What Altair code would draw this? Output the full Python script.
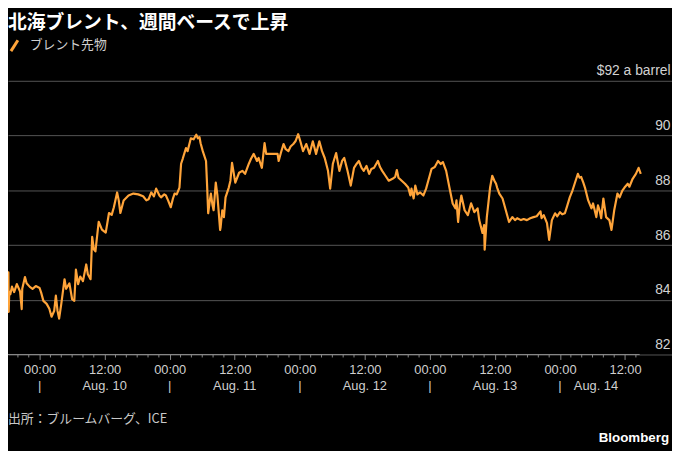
import altair as alt
import pandas as pd

TITLE = "北海ブレント、週間ベースで上昇"
LEGEND = "ブレント先物"
SOURCE = "出所：ブルームバーグ、ICE"
BRAND = "Bloomberg"
UNIT_LABEL = "$92 a barrel"

# (hours since Aug. 10 00:00, price in $)
aug09 = [(-5.8, 84.28), (-5.75, 85.0), (-5.7, 83.56), (-5.6, 84.3), (-5.4, 84.2), (-5.1, 84.48),
         (-4.7, 84.28), (-4.2, 84.57), (-3.6, 84.3), (-3.3, 83.66), (-3.2, 84.4), (-2.7, 84.83),
         (-2.4, 84.6), (-1.8, 84.47), (-1.3, 84.4), (-0.7, 84.5)]
aug10 = [(0, 84.43), (0.3, 84.25), (0.7, 83.96), (1.3, 83.85), (1.8, 83.67), (2.2, 83.38), (2.7, 83.6),
         (3.0, 84.15), (3.3, 83.6), (3.6, 83.31), (4.0, 83.85), (4.6, 84.75), (4.9, 84.4), (5.5, 84.6),
         (6.0, 84.02), (6.4, 83.96), (6.7, 85.1), (7.1, 84.57), (7.5, 84.85), (8.0, 84.68), (8.6, 85.29),
         (8.9, 84.93), (9.4, 84.75), (9.7, 86.3), (10.0, 85.84), (10.3, 85.77), (10.9, 86.85), (11.5, 86.56),
         (12.2, 86.45), (12.8, 87.17), (13.3, 87.1), (13.7, 87.38), (14.3, 87.92), (14.6, 87.63),
         (14.9, 87.17), (15.5, 87.63), (16.4, 87.81), (17.3, 87.88), (18.2, 87.85), (19.1, 87.78),
         (19.7, 87.63), (20.1, 87.67), (20.6, 87.92), (21.1, 87.78), (21.5, 88.06), (22.1, 87.81),
         (22.4, 87.74), (23.0, 87.85), (23.3, 87.81), (23.7, 87.63)]
aug11 = [(24.2, 87.38), (24.6, 87.7), (24.9, 87.88), (25.3, 87.85), (25.8, 88.1), (26.1, 88.97),
         (26.4, 89.15), (27.0, 89.54), (27.3, 89.43), (27.9, 89.9), (28.4, 89.86), (28.9, 90.03),
         (29.2, 89.9), (29.5, 89.94), (29.7, 89.72), (30.1, 89.43), (30.7, 89.07), (30.9, 88.17),
         (31.1, 87.16), (31.4, 87.63), (31.6, 87.88), (31.9, 87.45), (32.1, 87.27), (32.5, 88.28),
         (32.8, 87.81), (33.3, 86.55), (33.4, 86.66), (33.7, 87.27), (34.0, 87.02), (34.3, 87.74),
         (34.9, 88.1), (35.2, 88.35), (35.5, 89.0), (36.1, 88.28), (36.8, 88.64), (37.4, 88.71),
         (37.9, 88.6), (38.6, 88.97), (39.0, 89.15), (39.5, 89.33), (40.1, 89.07), (40.4, 89.18),
         (41.0, 88.82), (41.5, 89.72), (41.8, 89.33), (43.9, 89.33), (44.1, 89.07), (44.5, 89.36),
         (45.0, 89.69), (45.4, 89.5), (45.9, 89.43), (46.3, 89.6), (46.8, 89.69), (47.2, 89.79),
         (47.7, 90.05)]
aug12 = [(48.1, 89.79), (48.6, 89.43), (49.2, 89.69), (49.8, 89.33), (50.4, 89.79), (51.0, 89.33),
         (51.6, 89.79), (52.1, 89.43), (52.6, 89.18), (53.2, 88.71), (53.6, 88.06), (54.1, 88.97),
         (54.7, 89.36), (55.3, 88.71), (55.8, 89.07), (56.2, 89.18), (56.8, 88.71), (57.4, 88.17),
         (58.0, 88.82), (58.5, 88.97), (58.9, 89.07), (59.4, 88.82), (59.8, 88.71), (60.3, 88.89),
         (60.8, 88.6), (61.2, 88.78), (61.7, 88.82), (62.4, 89.07), (62.8, 88.85), (63.2, 88.71),
         (63.8, 88.53), (64.4, 88.35), (65.1, 88.42), (65.6, 88.49), (65.9, 88.74), (66.2, 88.46),
         (66.8, 88.35), (67.4, 88.24), (68.0, 88.1), (68.4, 87.81), (68.6, 88.06), (69.0, 87.7),
         (69.3, 88.17), (69.7, 87.85), (70.2, 87.92), (70.8, 87.81), (71.3, 88.06), (71.7, 88.35)]
aug13 = [(72.3, 88.78), (72.9, 88.85), (73.5, 89.07), (74.0, 88.96), (74.4, 89.03), (75.0, 88.71),
         (75.6, 88.1), (76.2, 87.52), (76.7, 87.34), (76.9, 87.63), (77.2, 86.84), (77.5, 87.45),
         (77.8, 87.81), (78.4, 87.27), (79.0, 87.09), (79.6, 87.52), (80.2, 87.2), (80.8, 87.34),
         (81.1, 86.91), (81.7, 86.44), (82.0, 86.73), (82.1, 85.83), (82.5, 87.02), (83.1, 88.1),
         (83.5, 88.53), (83.9, 88.35), (84.2, 88.24), (84.4, 88.1), (84.8, 87.88), (85.4, 87.7),
         (86.0, 87.27), (86.6, 86.84), (87.2, 87.02), (87.7, 86.91), (88.1, 86.98), (88.8, 86.91),
         (89.3, 86.95), (89.9, 86.91), (90.5, 86.98), (91.1, 87.02), (91.7, 87.05), (92.4, 87.23),
         (92.6, 86.98), (93.0, 87.09), (93.6, 86.8), (94.0, 86.19), (94.5, 86.91), (95.1, 87.16),
         (95.5, 87.05)]
aug14 = [(96.0, 87.2), (96.4, 87.12), (96.9, 87.16), (97.3, 87.41), (97.8, 87.74), (98.3, 87.99),
         (98.7, 88.24), (99.0, 88.42), (99.3, 88.6), (99.6, 88.46), (99.9, 88.49), (100.3, 88.28),
         (100.6, 88.1), (101.2, 87.63), (101.8, 87.34), (102.1, 87.52), (102.7, 87.02), (103.0, 87.45),
         (103.3, 87.27), (103.6, 86.98), (104.0, 87.7), (104.5, 87.02), (105.1, 86.91), (105.5, 86.55),
         (106.0, 87.27), (106.6, 87.88), (107.0, 87.74), (107.5, 87.99), (107.9, 88.1), (108.5, 88.24),
         (108.8, 88.13), (109.4, 88.42), (110.0, 88.6), (110.5, 88.82), (110.9, 88.6)]

y_ticks = [82, 84, 86, 88, 90, 92]
major_hours = [0, 12, 24, 36, 48, 60, 72, 84, 96, 108]
minor_hours = [h for h in range(-4, 112, 2) if h % 12 != 0]
sep_hours = [0, 24, 48, 72, 96]
day_hours = [12, 36, 60, 84]
day_names = ["Aug. 10", "Aug. 11", "Aug. 12", "Aug. 13"]
last_day_hour = 96
last_day = "Aug. 14"
x_range_hours = [-5.83, 116.66]
baseline_end_hour = 110.7

BASE_MS = int(pd.Timestamp("2023-08-10T00:00:00", tz="UTC").value // 10**6)
HOUR_MS = 3_600_000


def ms(h):
    return BASE_MS + int(round(h * HOUR_MS))


rows = [p for seg in (aug09, aug10, aug11, aug12, aug13, aug14) for p in seg]
df = pd.DataFrame({"t": [ms(h) for h, _ in rows], "price": [p for _, p in rows]})

ORANGE = "#ffa43a"
W, H = 672, 277
FONT = "Liberation Sans"
CJK = "Noto Sans CJK JP"

xscale = alt.Scale(type="utc", domain=[ms(x_range_hours[0]), ms(x_range_hours[1])])
x_axis = alt.Axis(
    values=[ms(h) for h in major_hours],
    labelExpr="utcFormat(datum.value, '%H:%M')",
    grid=False,
    domain=False,
    ticks=True,
    tickSize=5,
    tickColor="#8a8a8a",
    labelPadding=4,
    labelFont=FONT,
    labelFontSize=13,
    labelColor="#cfcfcf",
    labelOverlap=False,
    title=None,
)
x_main = alt.X("t:T", scale=xscale, axis=x_axis)

y_main = alt.Y(
    "price:Q",
    scale=alt.Scale(domain=[82, 92], nice=False, zero=False),
    axis=alt.Axis(
        orient="right",
        values=y_ticks,
        grid=True,
        gridColor="#555555",
        gridWidth=1,
        domain=False,
        ticks=False,
        tickSize=0,
        labelAlign="right",
        labelBaseline="alphabetic",
        labelPadding=-2,
        labelOffset=-6,
        labelFont=FONT,
        labelFontSize=14,
        labelColor="#d2d2d2",
        labelExpr=f"datum.value == 92 ? '{UNIT_LABEL}' : datum.label",
        title=None,
    ),
)

line = alt.Chart(df).mark_line(color=ORANGE, strokeWidth=2.2, strokeJoin="round").encode(x=x_main, y=y_main)

# baseline and minor ticks
base_df = pd.DataFrame({"t": [ms(x_range_hours[0])], "t_end": [ms(baseline_end_hour)]})
baseline = alt.Chart(base_df).mark_rule(color="#8a8a8a", strokeWidth=1).encode(
    x=x_main, x2="t_end:T", y=alt.value(H)
)
minor_df = pd.DataFrame({"t": [ms(h) for h in minor_hours]})
minor = alt.Chart(minor_df).mark_rule(color="#8a8a8a", strokeWidth=1).encode(
    x=x_main, y=alt.value(H), y2=alt.value(H + 3)
)

# second row of x labels
row2_df = pd.DataFrame({
    "t": [ms(h) for h in sep_hours] + [ms(h) for h in day_hours],
    "label": ["|"] * len(sep_hours) + day_names,
})
row2 = alt.Chart(row2_df).mark_text(
    align="center", baseline="top", font=FONT, fontSize=13, color="#cfcfcf"
).encode(x=x_main, y=alt.value(303), text="label:N")
last_df = pd.DataFrame({"t": [ms(last_day_hour)], "label": [last_day]})
row2_last = alt.Chart(last_df).mark_text(
    align="left", baseline="top", dx=14, font=FONT, fontSize=13, color="#cfcfcf"
).encode(x=x_main, y=alt.value(303), text="label:N")

# title, legend, source, brand
one = lambda s: pd.DataFrame({"s": [s]})
title = alt.Chart(one(TITLE)).mark_text(
    align="left", baseline="middle", font=CJK, fontSize=19, fontWeight="bold", color="#ffffff"
).encode(x=alt.value(0), y=alt.value(-58), text="s:N")
legend_icon = alt.Chart(one("icon")).mark_rule(color=ORANGE, strokeWidth=3).encode(
    x=alt.value(3), x2=alt.value(10), y=alt.value(-30), y2=alt.value(-41)
)
legend_text = alt.Chart(one(LEGEND)).mark_text(
    align="left", baseline="middle", font=CJK, fontSize=13, color="#d0d0d0"
).encode(x=alt.value(22), y=alt.value(-36), text="s:N")
source = alt.Chart(one(SOURCE)).mark_text(
    align="left", baseline="middle", font=CJK, fontSize=13, color="#c8c8c8"
).encode(x=alt.value(0), y=alt.value(342), text="s:N")
brand = alt.Chart(one(BRAND)).mark_text(
    align="right", baseline="middle", font=FONT, fontSize=13.5, fontWeight="bold", color="#ffffff"
).encode(x=alt.value(669), y=alt.value(362), text="s:N")

chart = alt.layer(
    line, baseline, minor, row2, row2_last, title, legend_icon, legend_text, source, brand
).properties(
    width=W,
    height=H,
    padding={"left": 0, "top": 71, "right": 0, "bottom": 95},
    autosize=alt.AutoSizeParams(type="none"),
    background="#000000",
).configure_view(strokeWidth=0)

chart.save("out.html", embed_options={"renderer": "svg", "actions": False})
